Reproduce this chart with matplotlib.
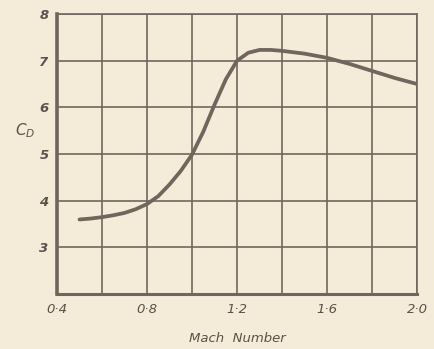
import matplotlib
matplotlib.use("Agg")
import matplotlib.pyplot as plt

# values
mach = [0.5, 0.55, 0.6, 0.65, 0.7, 0.75, 0.8, 0.85, 0.9, 0.95, 1.0, 1.05, 1.1, 1.15,
        1.2, 1.25, 1.3, 1.35, 1.4, 1.5, 1.6, 1.7, 1.8, 1.9, 2.0]
cd = [3.6, 3.62, 3.65, 3.69, 3.74, 3.82, 3.93, 4.1, 4.35, 4.64, 4.99, 5.48, 6.06, 6.6,
      7.0, 7.17, 7.23, 7.23, 7.21, 7.15, 7.06, 6.93, 6.78, 6.63, 6.5]

xticks = [0.4, 0.8, 1.2, 1.6, 2.0]
xticklabels = ["0·4", "0·8", "1·2", "1·6", "2·0"]
yticks = [3, 4, 5, 6, 7, 8]
yticklabels = ["3", "4", "5", "6", "7", "8"]

bg = "#f4ebd9"
ink = "#6f665e"
txt = "#5a524b"

fig = plt.figure(figsize=(4.35, 3.49), dpi=100, facecolor=bg)
ax = fig.add_axes([0.131, 0.157, 0.828, 0.803], facecolor=bg)

ax.set_xlim(0.4, 2.0)
ax.set_ylim(2, 8)

# grid every 0.2 in Mach, every 1 in C_D
for x in [0.4 + 0.2 * i for i in range(9)]:
    ax.axvline(x, color=ink, lw=1.2, zorder=1)
for y in range(2, 9):
    ax.axhline(y, color=ink, lw=1.2, zorder=1)

ax.plot(mach, cd, color=ink, lw=2.7, solid_capstyle="round", solid_joinstyle="round", zorder=3)

for s in ax.spines.values():
    s.set_color(ink)
    s.set_linewidth(1.2)
ax.spines["left"].set_linewidth(2.6)
ax.spines["bottom"].set_linewidth(2.2)

ax.set_xticks(xticks)
ax.set_xticklabels(xticklabels, fontsize=9.5, style="italic", color=txt)
ax.set_yticks(yticks)
ax.set_yticklabels(yticklabels, fontsize=9.5, style="italic", color=txt, fontweight="bold")
ax.tick_params(length=0, pad=6)

ax.set_xlabel("Mach  Number", fontsize=9.5, style="italic", color=txt, labelpad=12)
fig.text(0.035, 0.625, "$C_D$", fontsize=11, color=txt, ha="left", va="center")

fig.savefig("out.png", dpi=100, facecolor=bg)
